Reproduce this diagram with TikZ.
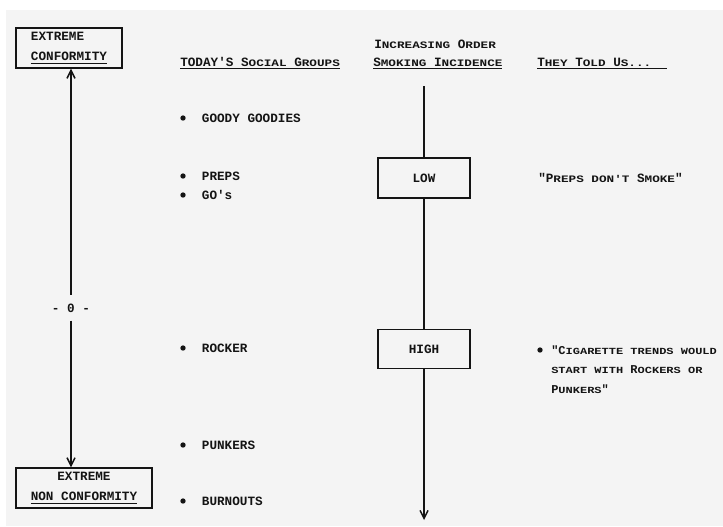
\documentclass[tikz,border=0pt]{standalone}
\usepackage{fontspec}
\setmonofont{Liberation Mono}
\usetikzlibrary{arrows.meta,positioning}
\definecolor{paper}{HTML}{F4F4F4}
\definecolor{ink}{HTML}{141414}
% small capitals of the dot-matrix print
\newcommand{\sm}[1]{\scalebox{1}[0.78]{#1}}
\tikzset{
	txt/.style={font=\ttfamily\bfseries\fontsize{9.5}{14.6}\selectfont, text=ink, inner sep=0pt, anchor=base west, align=left},
	box/.style={draw=ink, line width=1.1pt, font=\ttfamily\bfseries\fontsize{9.5}{15}\selectfont, text=ink, inner sep=0pt},
	dot/.style={circle, fill=ink, inner sep=0pt, minimum size=4pt},
	axis/.style={draw=ink, line width=1.1pt},
	>={Straight Barb[length=6pt,width=6pt,line width=1.1pt]}
}

\begin{document}
\begin{tikzpicture}[x=0.75pt,y=-0.75pt]
	\useasboundingbox (0,0) rectangle (723,526);
	\fill[paper] (6,10) rectangle (723,526);
	
	% left scale
	\node[box, minimum width=79.5pt, minimum height=30pt, align=left] (conform) at (69,48) {EXTREME\\\underline{CONFORMITY}};
	\node[box, minimum width=102pt, minimum height=30pt, align=center] (nonconf) at (84,488) {EXTREME\\\underline{NON CONFORMITY}};
	\node[txt, anchor=center, inner ysep=6pt] (zero) at (71,308) {- 0 -};
	\draw[axis, <-] (zero.north |- conform.south) -- (zero.north);
	\draw[axis, ->] (zero.south) -- (zero.south |- nonconf.north);
	
	% social groups
	\node[txt] (groups) at (180,66) {\underline{TODAY'S S\sm{OCIAL} G\sm{ROUPS}}};
	\node[dot] (d-goody) at (183,118) {};
	\node[txt, right=14pt of d-goody.center, anchor=west] (goody) {GOODY GOODIES};
	\node[dot] (d-preps) at (183,176) {};
	\node[txt, right=14pt of d-preps.center, anchor=west] (preps) {PREPS};
	\node[dot] (d-gos) at (183,195) {};
	\node[txt, right=14pt of d-gos.center, anchor=west] (gos) {GO's};
	\node[dot] (d-rocker) at (183,348) {};
	\node[txt, right=14pt of d-rocker.center, anchor=west] (rocker) {ROCKER};
	\node[dot] (d-punkers) at (183,445) {};
	\node[txt, right=14pt of d-punkers.center, anchor=west] (punkers) {PUNKERS};
	\node[dot] (d-burnouts) at (183,501) {};
	\node[txt, right=14pt of d-burnouts.center, anchor=west] (burnouts) {BURNOUTS};
	
	% smoking incidence
	\node[txt] (order) at (374,48) {I\sm{NCREASING} O\sm{RDER}};
	\node[txt] (incidence) at (373,66) {\underline{S\sm{MOKING} I\sm{NCIDENCE}}};
	\coordinate (smktop) at (424,86);
	\coordinate (smkend) at (424,520);
	\node[box, minimum width=69pt, minimum height=30pt] (low) at (424,178) {LOW};
	\node[box, minimum width=69pt, minimum height=29pt] (high) at (424,349) {HIGH};
	\draw[axis] (smktop) -- (low.north);
	\draw[axis] (low.south) -- (high.north);
	\draw[axis, ->] (high.south) -- (smkend);
	
	% quotes
	\node[txt] (told) at (537,66) {\underline{T\sm{HEY} T\sm{OLD} U\sm{S...}~~}};
	\node[txt, anchor=west] (q-preps) at (538,178) {"P\sm{REPS DON'T} S\sm{MOKE}"};
	\node[dot] (d-cig) at (540,350) {};
	\node[txt, font=\ttfamily\bfseries\fontsize{9}{14.6}\selectfont] (q-cig) at (551,393) {"C\sm{IGARETTE TRENDS WOULD}\\\sm{START WITH} R\sm{OCKERS OR}\\P\sm{UNKERS}"};
\end{tikzpicture}
\end{document}
